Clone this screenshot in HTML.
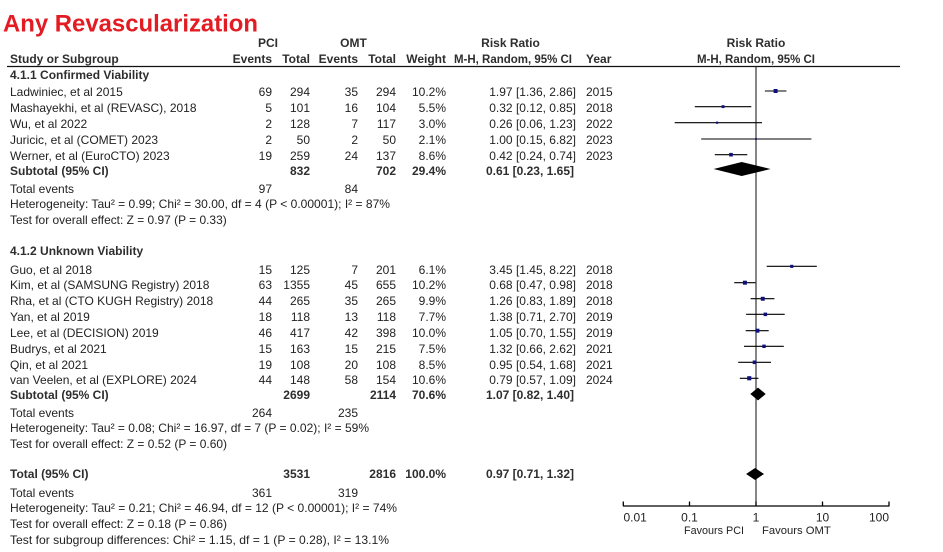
<!DOCTYPE html>
<html>
<head>
<meta charset="utf-8">
<style>
  html, body { margin: 0; padding: 0; background: #fff; }
  svg { display: block; }
  text { font-family: "Liberation Sans", Arial, sans-serif; font-size: 12px; fill: #222; }
  .b { font-weight: bold; fill: #2e2e2e; }
  .e { text-anchor: end; }
  .m { text-anchor: middle; }
</style>
</head>
<body>
<svg width="943" height="552" viewBox="0 0 943 552" xmlns="http://www.w3.org/2000/svg">
  <rect width="943" height="552" fill="#fff"/>

  <!-- Title -->
  <text x="3" y="31.5" style="font-size:24.5px;font-weight:bold;fill:#e31b23" textLength="255" lengthAdjust="spacingAndGlyphs">Any Revascularization</text>

  <!-- Header -->
  <text class="b m" x="268" y="47">PCI</text>
  <text class="b m" x="353.5" y="47">OMT</text>
  <text class="b m" x="510.5" y="47">Risk Ratio</text>
  <text class="b m" x="756" y="47">Risk Ratio</text>

  <text class="b" x="10" y="63">Study or Subgroup</text>
  <text class="b e" x="272" y="63">Events</text>
  <text class="b e" x="310" y="63">Total</text>
  <text class="b e" x="358" y="63">Events</text>
  <text class="b e" x="396" y="63">Total</text>
  <text class="b e" x="446" y="63">Weight</text>
  <text class="b" x="454" y="63" textLength="118" lengthAdjust="spacingAndGlyphs">M-H, Random, 95% CI</text>
  <text class="b" x="586" y="63">Year</text>
  <text class="b" x="697" y="63" textLength="118" lengthAdjust="spacingAndGlyphs">M-H, Random, 95% CI</text>

  <line x1="7" y1="66.5" x2="900" y2="66.5" stroke="#111" stroke-width="1.3"/>

  <!-- Group 1 -->
  <text class="b" x="10" y="79">4.1.1 Confirmed Viability</text>

  <text x="10" y="96">Ladwiniec, et al 2015</text>
  <text class="e" x="272" y="96">69</text><text class="e" x="310" y="96">294</text>
  <text class="e" x="358" y="96">35</text><text class="e" x="396" y="96">294</text>
  <text class="e" x="446" y="96">10.2%</text><text class="e" x="576" y="96">1.97 [1.36, 2.86]</text>
  <text x="586" y="96">2015</text>

  <text x="10" y="112">Mashayekhi, et al (REVASC), 2018</text>
  <text class="e" x="272" y="112">5</text><text class="e" x="310" y="112">101</text>
  <text class="e" x="358" y="112">16</text><text class="e" x="396" y="112">104</text>
  <text class="e" x="446" y="112">5.5%</text><text class="e" x="576" y="112">0.32 [0.12, 0.85]</text>
  <text x="586" y="112">2018</text>

  <text x="10" y="128">Wu, et al 2022</text>
  <text class="e" x="272" y="128">2</text><text class="e" x="310" y="128">128</text>
  <text class="e" x="358" y="128">7</text><text class="e" x="396" y="128">117</text>
  <text class="e" x="446" y="128">3.0%</text><text class="e" x="576" y="128">0.26 [0.06, 1.23]</text>
  <text x="586" y="128">2022</text>

  <text x="10" y="144">Juricic, et al (COMET) 2023</text>
  <text class="e" x="272" y="144">2</text><text class="e" x="310" y="144">50</text>
  <text class="e" x="358" y="144">2</text><text class="e" x="396" y="144">50</text>
  <text class="e" x="446" y="144">2.1%</text><text class="e" x="576" y="144">1.00 [0.15, 6.82]</text>
  <text x="586" y="144">2023</text>

  <text x="10" y="160">Werner, et al (EuroCTO) 2023</text>
  <text class="e" x="272" y="160">19</text><text class="e" x="310" y="160">259</text>
  <text class="e" x="358" y="160">24</text><text class="e" x="396" y="160">137</text>
  <text class="e" x="446" y="160">8.6%</text><text class="e" x="576" y="160">0.42 [0.24, 0.74]</text>
  <text x="586" y="160">2023</text>

  <text class="b" x="10" y="175">Subtotal (95% CI)</text>
  <text class="b e" x="310" y="175">832</text>
  <text class="b e" x="396" y="175">702</text>
  <text class="b e" x="446" y="175">29.4%</text>
  <text class="b e" x="574" y="175">0.61 [0.23, 1.65]</text>

  <text x="10" y="193">Total events</text>
  <text class="e" x="272" y="193">97</text>
  <text class="e" x="358" y="193">84</text>
  <text x="10" y="208" textLength="380" lengthAdjust="spacingAndGlyphs">Heterogeneity: Tau² = 0.99; Chi² = 30.00, df = 4 (P &lt; 0.00001); I² = 87%</text>
  <text x="10" y="224" textLength="216.7" lengthAdjust="spacingAndGlyphs">Test for overall effect: Z = 0.97 (P = 0.33)</text>

  <!-- Group 2 -->
  <text class="b" x="10" y="255">4.1.2 Unknown Viability</text>

  <text x="10" y="274">Guo, et al 2018</text>
  <text class="e" x="272" y="274">15</text><text class="e" x="310" y="274">125</text>
  <text class="e" x="358" y="274">7</text><text class="e" x="396" y="274">201</text>
  <text class="e" x="446" y="274">6.1%</text><text class="e" x="576" y="274">3.45 [1.45, 8.22]</text>
  <text x="586" y="274">2018</text>

  <text x="10" y="289">Kim, et al (SAMSUNG Registry) 2018</text>
  <text class="e" x="272" y="289">63</text><text class="e" x="310" y="289">1355</text>
  <text class="e" x="358" y="289">45</text><text class="e" x="396" y="289">655</text>
  <text class="e" x="446" y="289">10.2%</text><text class="e" x="576" y="289">0.68 [0.47, 0.98]</text>
  <text x="586" y="289">2018</text>

  <text x="10" y="305">Rha, et al (CTO KUGH Registry) 2018</text>
  <text class="e" x="272" y="305">44</text><text class="e" x="310" y="305">265</text>
  <text class="e" x="358" y="305">35</text><text class="e" x="396" y="305">265</text>
  <text class="e" x="446" y="305">9.9%</text><text class="e" x="576" y="305">1.26 [0.83, 1.89]</text>
  <text x="586" y="305">2018</text>

  <text x="10" y="321">Yan, et al 2019</text>
  <text class="e" x="272" y="321">18</text><text class="e" x="310" y="321">118</text>
  <text class="e" x="358" y="321">13</text><text class="e" x="396" y="321">118</text>
  <text class="e" x="446" y="321">7.7%</text><text class="e" x="576" y="321">1.38 [0.71, 2.70]</text>
  <text x="586" y="321">2019</text>

  <text x="10" y="337">Lee, et al (DECISION) 2019</text>
  <text class="e" x="272" y="337">46</text><text class="e" x="310" y="337">417</text>
  <text class="e" x="358" y="337">42</text><text class="e" x="396" y="337">398</text>
  <text class="e" x="446" y="337">10.0%</text><text class="e" x="576" y="337">1.05 [0.70, 1.55]</text>
  <text x="586" y="337">2019</text>

  <text x="10" y="353">Budrys, et al 2021</text>
  <text class="e" x="272" y="353">15</text><text class="e" x="310" y="353">163</text>
  <text class="e" x="358" y="353">15</text><text class="e" x="396" y="353">215</text>
  <text class="e" x="446" y="353">7.5%</text><text class="e" x="576" y="353">1.32 [0.66, 2.62]</text>
  <text x="586" y="353">2021</text>

  <text x="10" y="369">Qin, et al 2021</text>
  <text class="e" x="272" y="369">19</text><text class="e" x="310" y="369">108</text>
  <text class="e" x="358" y="369">20</text><text class="e" x="396" y="369">108</text>
  <text class="e" x="446" y="369">8.5%</text><text class="e" x="576" y="369">0.95 [0.54, 1.68]</text>
  <text x="586" y="369">2021</text>

  <text x="10" y="384">van Veelen, et al (EXPLORE) 2024</text>
  <text class="e" x="272" y="384">44</text><text class="e" x="310" y="384">148</text>
  <text class="e" x="358" y="384">58</text><text class="e" x="396" y="384">154</text>
  <text class="e" x="446" y="384">10.6%</text><text class="e" x="576" y="384">0.79 [0.57, 1.09]</text>
  <text x="586" y="384">2024</text>

  <text class="b" x="10" y="399">Subtotal (95% CI)</text>
  <text class="b e" x="310" y="399">2699</text>
  <text class="b e" x="396" y="399">2114</text>
  <text class="b e" x="446" y="399">70.6%</text>
  <text class="b e" x="574" y="399">1.07 [0.82, 1.40]</text>

  <text x="10" y="417">Total events</text>
  <text class="e" x="272" y="417">264</text>
  <text class="e" x="358" y="417">235</text>
  <text x="10" y="432" textLength="359" lengthAdjust="spacingAndGlyphs">Heterogeneity: Tau² = 0.08; Chi² = 16.97, df = 7 (P = 0.02); I² = 59%</text>
  <text x="10" y="448" textLength="217" lengthAdjust="spacingAndGlyphs">Test for overall effect: Z = 0.52 (P = 0.60)</text>

  <!-- Total -->
  <text class="b" x="10" y="478">Total (95% CI)</text>
  <text class="b e" x="310" y="478">3531</text>
  <text class="b e" x="396" y="478">2816</text>
  <text class="b e" x="446" y="478">100.0%</text>
  <text class="b e" x="574" y="478">0.97 [0.71, 1.32]</text>

  <text x="10" y="497">Total events</text>
  <text class="e" x="272" y="497">361</text>
  <text class="e" x="358" y="497">319</text>
  <text x="10" y="512" textLength="387" lengthAdjust="spacingAndGlyphs">Heterogeneity: Tau² = 0.21; Chi² = 46.94, df = 12 (P &lt; 0.00001); I² = 74%</text>
  <text x="10" y="528" textLength="217" lengthAdjust="spacingAndGlyphs">Test for overall effect: Z = 0.18 (P = 0.86)</text>
  <text x="10" y="544" textLength="379" lengthAdjust="spacingAndGlyphs">Test for subgroup differences: Chi² = 1.15, df = 1 (P = 0.28), I² = 13.1%</text>

  <!-- Forest plot -->
  <line x1="756" y1="66" x2="756" y2="506" stroke="#222" stroke-width="1.1"/>

  <g stroke="#000" stroke-width="1.1">
    <line x1="764.9" y1="91" x2="786.4" y2="91"/>
    <line x1="694.8" y1="106.7" x2="751.3" y2="106.7"/>
    <line x1="674.7" y1="122.7" x2="762.0" y2="122.7"/>
    <line x1="701.2" y1="139" x2="811.4" y2="139"/>
    <line x1="714.8" y1="154.7" x2="747.3" y2="154.7"/>
    <line x1="766.7" y1="266.3" x2="816.8" y2="266.3"/>
    <line x1="734.2" y1="282.7" x2="755.4" y2="282.7"/>
    <line x1="750.6" y1="298.7" x2="774.4" y2="298.7"/>
    <line x1="746.1" y1="314.3" x2="784.7" y2="314.3"/>
    <line x1="745.7" y1="330.7" x2="768.7" y2="330.7"/>
    <line x1="744.0" y1="346.3" x2="783.8" y2="346.3"/>
    <line x1="738.2" y1="362.3" x2="771.0" y2="362.3"/>
    <line x1="739.8" y1="378.3" x2="758.5" y2="378.3"/>
  </g>

  <g fill="#10107a">
    <rect x="773.6" y="89" width="4" height="4"/>
    <rect x="721.6" y="105.2" width="2.9" height="2.9"/>
    <rect x="716.0" y="121.6" width="2.2" height="2.2"/>
    <rect x="755.1" y="138.1" width="1.8" height="1.8"/>
    <rect x="729.2" y="152.9" width="3.6" height="3.6"/>

    <rect x="790.2" y="264.8" width="3.1" height="3.1"/>
    <rect x="742.9" y="280.7" width="4" height="4"/>
    <rect x="760.8" y="296.8" width="3.9" height="3.9"/>
    <rect x="763.6" y="312.6" width="3.5" height="3.5"/>
    <rect x="755.4" y="328.7" width="4" height="4"/>
    <rect x="762.3" y="344.6" width="3.4" height="3.4"/>
    <rect x="752.7" y="360.5" width="3.6" height="3.6"/>
    <rect x="747.2" y="376.2" width="4.1" height="4.1"/>
  </g>

  <polygon points="713.6,169 741.7,162 770.5,169 741.7,176" fill="#000"/>
  <polygon points="750.3,394 758,387.6 765.7,394 758,400.4" fill="#000"/>
  <polygon points="746.1,474 755.1,468 764,474 755.1,480" fill="#000"/>

  <!-- axis -->
  <g stroke="#000" stroke-width="1.3">
    <line x1="623" y1="506" x2="889.5" y2="506"/>
    <line x1="623.3" y1="501.5" x2="623.3" y2="506"/>
    <line x1="689.5" y1="501.5" x2="689.5" y2="506"/>
    <line x1="756" y1="501.5" x2="756" y2="506"/>
    <line x1="822.5" y1="501.5" x2="822.5" y2="506"/>
    <line x1="889" y1="501.5" x2="889" y2="506"/>
  </g>
  <text x="623.5" y="521.5">0.01</text>
  <text class="m" x="689.5" y="521.5">0.1</text>
  <text class="m" x="756" y="521.5">1</text>
  <text class="m" x="822.5" y="521.5">10</text>
  <text class="e" x="889" y="521.5">100</text>
  <text x="684" y="534" style="font-size:11px" textLength="60" lengthAdjust="spacingAndGlyphs">Favours PCI</text>
  <text x="762" y="534" style="font-size:11px" textLength="68.7" lengthAdjust="spacingAndGlyphs">Favours OMT</text>
</svg>
</body>
</html>
